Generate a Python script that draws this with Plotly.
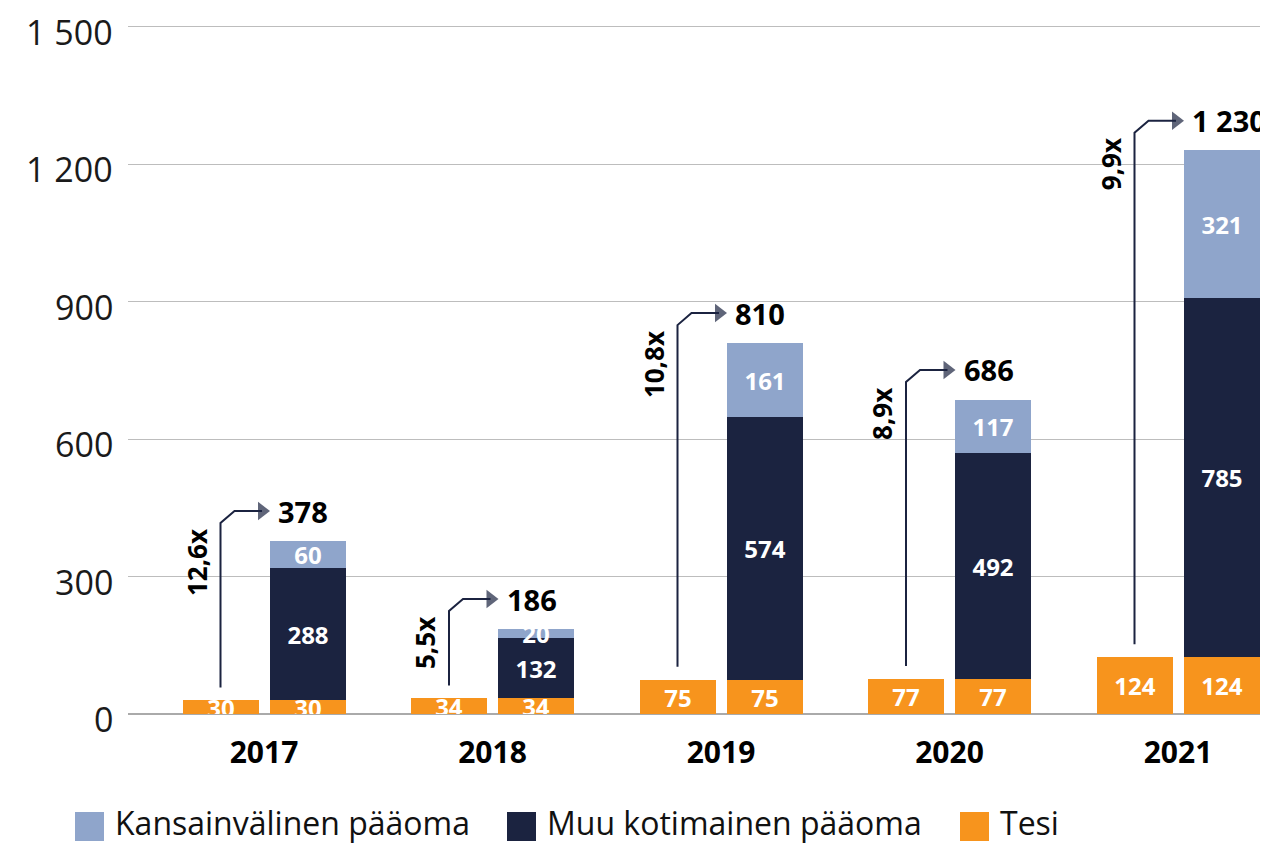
import plotly.graph_objects as go

# ---- data ----
years = ["2017", "2018", "2019", "2020", "2021"]
tesi = [30, 34, 75, 77, 124]
muu_kotimainen = [288, 132, 574, 492, 785]
kansainvalinen = [60, 20, 161, 117, 321]
totals = [378, 186, 810, 686, 1230]
multipliers = ["12,6x", "5,5x", "10,8x", "8,9x", "9,9x"]
y_ticks = [0, 300, 600, 900, 1200, 1500]

C_KV = "#8FA5CB"
C_MUU = "#1B2340"
C_TESI = "#F7941D"
FONT = "Open Sans"

def fmt(v):
    return f"{v:,}".replace(",", " ")

# page is rendered with an 8px body margin -> compensate
PAGE_OFF = 8
PLOT_L, PLOT_R, PLOT_BOTTOM = 128, 1268, 714   # page pixels
Y_MAX = 1506
PX_Y = 687.0 / 1500.0                          # px per value unit
PLOT_H = round(PX_Y * Y_MAX)
S = 228.5                                      # px per category step
C0 = 264                                       # page px of first category

idx = list(range(len(years)))
off = 43.5 / S
bw = 76 / S
left_x = [i - off for i in idx]
right_x = [i + off for i in idx]

fig = go.Figure()

bar_text = dict(color="white", size=24, family=FONT, weight="bold")

# Tesi only bar (left)
fig.add_trace(go.Bar(x=left_x, y=tesi, width=bw, marker=dict(color=C_TESI, line=dict(width=0)),
                     text=[fmt(v) for v in tesi], textposition="inside",
                     insidetextanchor="middle", constraintext="none",
                     textangle=0, insidetextfont=bar_text, showlegend=False,
                     hoverinfo="skip"))
# stacked bar (right)
for vals, col, name in [(tesi, C_TESI, "Tesi"),
                        (muu_kotimainen, C_MUU, "Muu kotimainen pääoma"),
                        (kansainvalinen, C_KV, "Kansainvälinen pääoma")]:
    fig.add_trace(go.Bar(x=right_x, y=vals, width=bw, marker=dict(color=col, line=dict(width=0)),
                         name=name,
                         text=[fmt(v) for v in vals], textposition="inside",
                         insidetextanchor="middle", constraintext="none",
                         textangle=0, insidetextfont=bar_text, showlegend=False))

# arrows + labels
for i in idx:
    x0 = left_x[i]
    y_start = tesi[i] + 28
    y_top = totals[i] + 65
    y_corner = y_top - 12 / PX_Y
    x_corner = x0 + 14 / S
    x_end = i - 2 / S
    fig.add_trace(go.Scatter(
        x=[x0, x0, x_corner, x_end], y=[y_start, y_corner, y_top, y_top],
        mode="lines+markers", line=dict(color=C_MUU, width=2),
        marker=dict(symbol="triangle-right", size=[0, 0, 0, 16], color=C_MUU,
                    line=dict(width=0)),
        showlegend=False, hoverinfo="skip"))
    fig.add_annotation(x=i + 12 / S, y=y_top, text=fmt(totals[i]), showarrow=False,
                       xanchor="left", yanchor="middle",
                       font=dict(family=FONT, size=29, color="black", weight="bold"))
    fig.add_annotation(x=x0 - 24 / S, y=y_top - 16 / PX_Y,
                       text=multipliers[i], showarrow=False, textangle=-90,
                       xanchor="center", yanchor="top",
                       font=dict(family=FONT, size=26, color="black", weight="bold"))

# y tick labels (drawn as annotations so they can sit slightly below the gridline)
for v in y_ticks:
    fig.add_annotation(xref="paper", yref="y", x=0, y=v, text=fmt(v), showarrow=False,
                       xanchor="right", yanchor="middle", xshift=-13, yshift=-5,
                       font=dict(family=FONT, size=34, color="#1a1a1a"))

# manual legend (paper coords computed from page pixels)
legend_items = [("Kansainvälinen pääoma", C_KV), ("Muu kotimainen pääoma", C_MUU), ("Tesi", C_TESI)]
legend_px = [75, 507, 960]
W = float(PLOT_R - PLOT_L)
for (label, col), lx in zip(legend_items, legend_px):
    fig.add_shape(type="rect", xref="paper", yref="paper",
                  x0=(lx - PLOT_L) / W, x1=(lx + 29 - PLOT_L) / W,
                  y0=(PLOT_BOTTOM - 812) / PLOT_H, y1=(PLOT_BOTTOM - 841) / PLOT_H,
                  fillcolor=col, line=dict(width=0))
    fig.add_annotation(xref="paper", yref="paper", x=(lx + 38 - PLOT_L) / W,
                       y=(PLOT_BOTTOM - 822) / PLOT_H, text=label, showarrow=False,
                       xanchor="left", yanchor="middle",
                       font=dict(family=FONT, size=32, color="#111111"))

fig_w = 1268 - PAGE_OFF
fig_h = 844 - PAGE_OFF
top = PLOT_BOTTOM - PLOT_H - PAGE_OFF
bottom = fig_h - (PLOT_BOTTOM - PAGE_OFF)

fig.update_layout(
    width=fig_w, height=fig_h, autosize=False,
    margin=dict(l=PLOT_L - PAGE_OFF, r=fig_w - (PLOT_R - PAGE_OFF), t=top, b=bottom, pad=0),
    plot_bgcolor="white", paper_bgcolor="white",
    barmode="stack", bargap=0,
    font=dict(family=FONT),
    xaxis=dict(range=[-(C0 - PLOT_L) / S, (PLOT_R - C0) / S], tickvals=idx, ticktext=years,
               showgrid=False, zeroline=False, showline=False, ticks="",
               automargin=False,
               tickfont=dict(family=FONT, size=30, color="black", weight="bold"),
               ticklabelstandoff=18),
    yaxis=dict(range=[0, Y_MAX], tickvals=y_ticks, showticklabels=False,
               showgrid=True, gridcolor="#BDBDBD", gridwidth=1,
               zeroline=True, zerolinecolor="#AAAAAA", zerolinewidth=2,
               showline=False, ticks="", automargin=False),
)

fig.write_html("out.html")
